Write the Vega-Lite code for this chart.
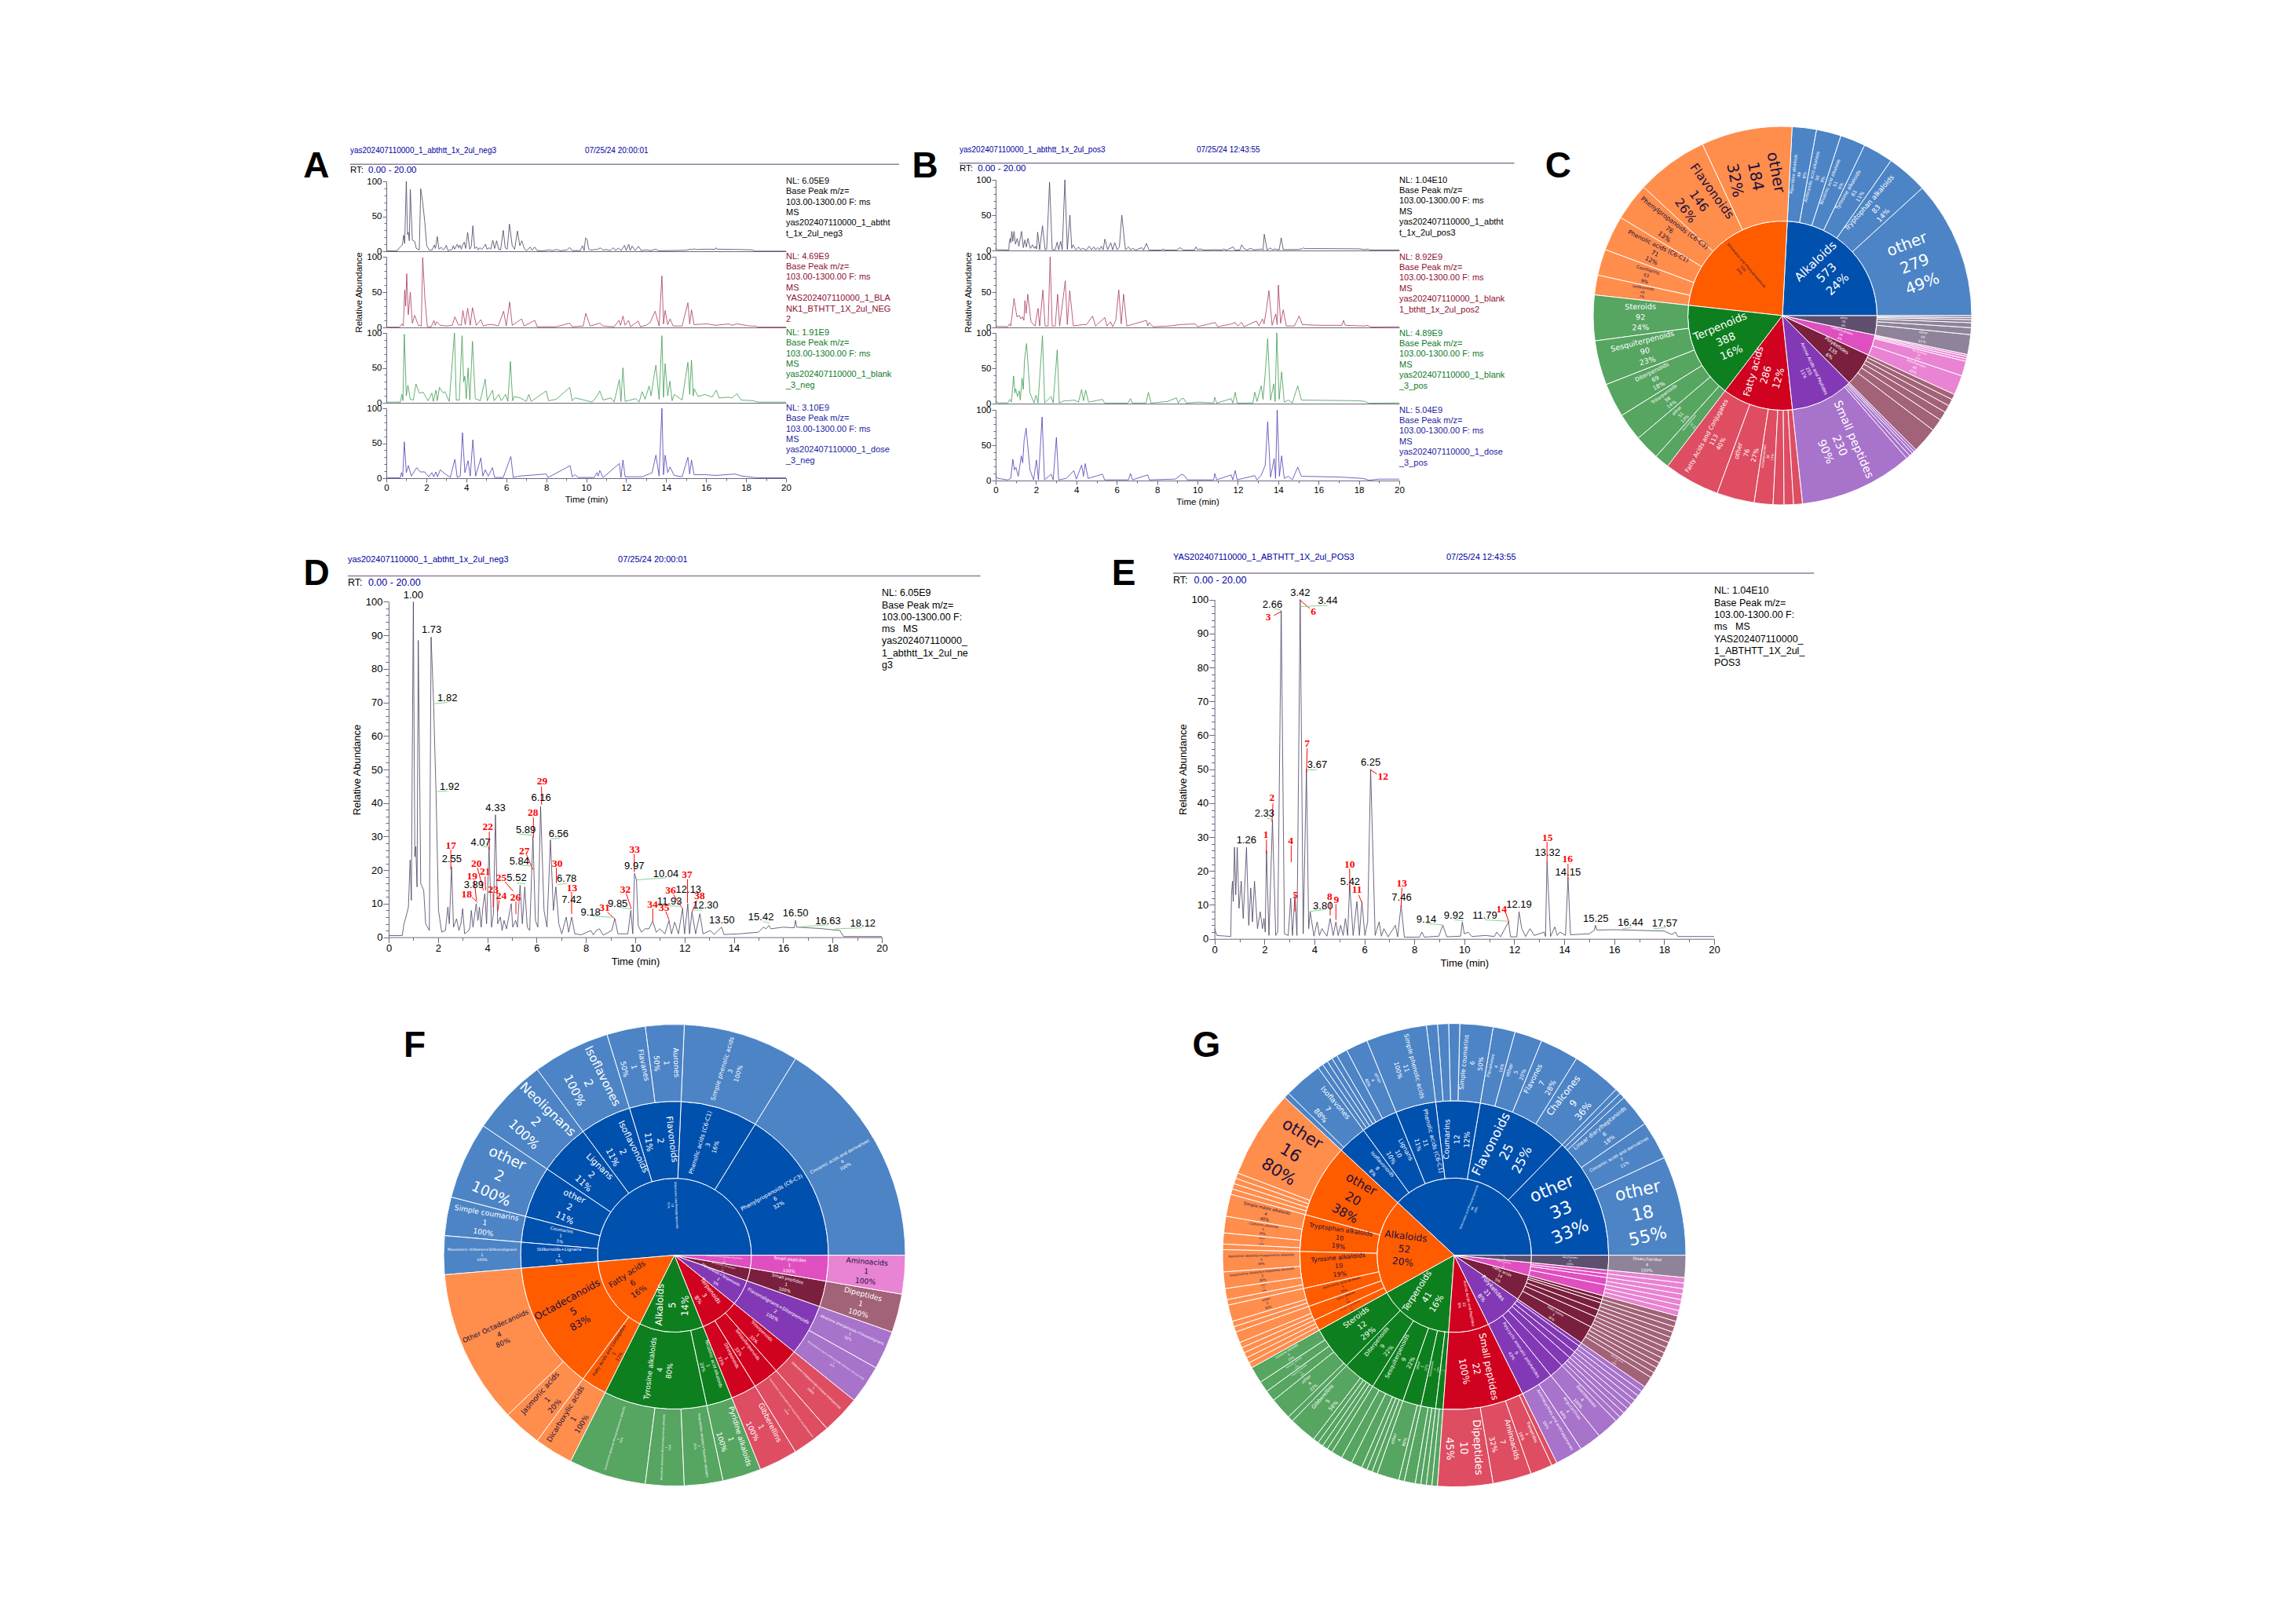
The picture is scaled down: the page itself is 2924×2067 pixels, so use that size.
{"$schema":"https://vega.github.io/schema/vega-lite/v6.json","width":2924,"height":2067,"autosize":{"type":"none"},"padding":0,"background":"white",
"config":{"view":{"stroke":null},"axis":{"grid":false,"labelFont":"Liberation Sans","titleFont":"Liberation Sans","titleFontWeight":"normal","labelColor":"#000","titleColor":"#000","domainColor":"#6f6880","tickColor":"#6f6880","labelOverlap":false,"labelFlush":false,"labelPadding":1,"titlePadding":4},"text":{"font":"Liberation Sans"}},
"resolve":{"scale":{"x":"independent","y":"independent","theta":"independent","radius":"independent","color":"independent"},"axis":{"x":"independent","y":"independent"}},
"datasets":{
"d":[{"t":0,"v":0.5},{"t":0.55,"v":0.5},{"t":0.62,"v":4},{"t":0.7,"v":6},{"t":0.8,"v":9},{"t":0.87,"v":23},{"t":0.92,"v":11},{"t":0.95,"v":47},{"t":1,"v":100},{"t":1.06,"v":24},{"t":1.1,"v":27},{"t":1.15,"v":15},{"t":1.2,"v":88.5},{"t":1.3,"v":16},{"t":1.42,"v":14},{"t":1.5,"v":4},{"t":1.65,"v":2},{"t":1.72,"v":89.5},{"t":1.82,"v":70},{"t":1.92,"v":43},{"t":2.02,"v":8},{"t":2.15,"v":1.5},{"t":2.3,"v":2},{"t":2.4,"v":9},{"t":2.46,"v":4},{"t":2.55,"v":21},{"t":2.63,"v":3},{"t":2.75,"v":5.5},{"t":2.85,"v":2},{"t":2.93,"v":4},{"t":3,"v":8.5},{"t":3.08,"v":1},{"t":3.25,"v":2},{"t":3.3,"v":3},{"t":3.35,"v":8},{"t":3.42,"v":3},{"t":3.55,"v":10},{"t":3.62,"v":5},{"t":3.68,"v":9},{"t":3.75,"v":3},{"t":3.82,"v":9},{"t":3.9,"v":13},{"t":3.97,"v":4},{"t":4.07,"v":27},{"t":4.17,"v":3},{"t":4.25,"v":7},{"t":4.33,"v":36.5},{"t":4.42,"v":4},{"t":4.53,"v":6},{"t":4.6,"v":2},{"t":4.68,"v":5},{"t":4.78,"v":2.5},{"t":4.97,"v":10},{"t":5.03,"v":3},{"t":5.15,"v":5},{"t":5.22,"v":3},{"t":5.33,"v":15.5},{"t":5.42,"v":4},{"t":5.52,"v":15},{"t":5.62,"v":3},{"t":5.72,"v":2},{"t":5.85,"v":30},{"t":5.95,"v":5},{"t":6.05,"v":3},{"t":6.16,"v":39},{"t":6.3,"v":8},{"t":6.42,"v":3},{"t":6.56,"v":29},{"t":6.68,"v":8},{"t":6.78,"v":15},{"t":6.9,"v":4},{"t":7.02,"v":1},{"t":7.2,"v":6},{"t":7.3,"v":1.5},{"t":7.42,"v":6},{"t":7.55,"v":1},{"t":7.8,"v":0.7},{"t":8.2,"v":2},{"t":8.3,"v":0.7},{"t":8.42,"v":2},{"t":8.55,"v":2.5},{"t":8.7,"v":0.6},{"t":9.05,"v":2},{"t":9.17,"v":5.5},{"t":9.3,"v":1},{"t":9.7,"v":1},{"t":9.82,"v":8},{"t":9.9,"v":1},{"t":9.97,"v":19},{"t":10.05,"v":17},{"t":10.12,"v":3.5},{"t":10.25,"v":1.5},{"t":10.4,"v":2.5},{"t":10.55,"v":2.5},{"t":10.71,"v":4.8},{"t":10.85,"v":1.5},{"t":11,"v":2.5},{"t":11.2,"v":1},{"t":11.37,"v":5},{"t":11.47,"v":1},{"t":11.6,"v":4.5},{"t":11.75,"v":1},{"t":11.92,"v":8.5},{"t":12,"v":1},{"t":12.13,"v":10},{"t":12.2,"v":1},{"t":12.3,"v":7.5},{"t":12.45,"v":1},{"t":12.62,"v":7},{"t":12.75,"v":1},{"t":13.05,"v":2},{"t":13.2,"v":0.8},{"t":13.5,"v":3},{"t":13.6,"v":0.8},{"t":14.2,"v":1},{"t":15,"v":1.5},{"t":15.2,"v":3},{"t":15.3,"v":2.5},{"t":15.42,"v":3.5},{"t":15.5,"v":2.5},{"t":16,"v":3},{"t":16.45,"v":2.8},{"t":16.5,"v":5},{"t":16.55,"v":3},{"t":17.5,"v":2.6},{"t":18.3,"v":2},{"t":18.45,"v":0.2},{"t":20,"v":0.2}],
"e":[{"t":0,"v":3},{"t":0.1,"v":1},{"t":0.65,"v":0.7},{"t":0.68,"v":13},{"t":0.72,"v":17},{"t":0.75,"v":11},{"t":0.8,"v":27},{"t":0.85,"v":13},{"t":0.91,"v":27},{"t":0.98,"v":9},{"t":1.07,"v":17},{"t":1.15,"v":6},{"t":1.28,"v":27},{"t":1.37,"v":4},{"t":1.45,"v":15},{"t":1.52,"v":5},{"t":1.6,"v":17},{"t":1.72,"v":3},{"t":1.83,"v":8},{"t":1.92,"v":3},{"t":1.98,"v":6},{"t":2.03,"v":2},{"t":2.08,"v":26},{"t":2.18,"v":1},{"t":2.32,"v":35},{"t":2.45,"v":1},{"t":2.53,"v":2},{"t":2.67,"v":96.7},{"t":2.8,"v":1.5},{"t":2.95,"v":1},{"t":3.05,"v":12},{"t":3.12,"v":1},{"t":3.22,"v":13},{"t":3.3,"v":1},{"t":3.43,"v":100},{"t":3.55,"v":1.5},{"t":3.68,"v":50},{"t":3.77,"v":3},{"t":3.83,"v":8},{"t":3.98,"v":0.8},{"t":4.11,"v":5},{"t":4.2,"v":1},{"t":4.3,"v":3},{"t":4.5,"v":0.8},{"t":4.63,"v":6},{"t":4.75,"v":1},{"t":4.86,"v":5},{"t":4.95,"v":1},{"t":5.05,"v":4},{"t":5.15,"v":1},{"t":5.24,"v":6},{"t":5.33,"v":1},{"t":5.41,"v":16},{"t":5.55,"v":1},{"t":5.7,"v":11},{"t":5.8,"v":1},{"t":5.9,"v":11},{"t":6.02,"v":1},{"t":6.13,"v":5},{"t":6.25,"v":50},{"t":6.43,"v":1},{"t":6.59,"v":5},{"t":6.68,"v":0.8},{"t":6.78,"v":3},{"t":6.95,"v":0.6},{"t":7.24,"v":4},{"t":7.33,"v":0.6},{"t":7.47,"v":10},{"t":7.6,"v":0.5},{"t":8.2,"v":0.5},{"t":8.3,"v":2},{"t":8.4,"v":0.5},{"t":8.98,"v":0.8},{"t":9.14,"v":4},{"t":9.3,"v":0.6},{"t":9.85,"v":0.8},{"t":9.92,"v":5},{"t":10,"v":1.5},{"t":10.15,"v":2},{"t":10.3,"v":0.7},{"t":10.85,"v":1},{"t":11.2,"v":0.7},{"t":11.3,"v":2},{"t":11.45,"v":0.6},{"t":11.77,"v":5},{"t":11.85,"v":0.6},{"t":12.1,"v":0.6},{"t":12.19,"v":8},{"t":12.3,"v":3},{"t":12.45,"v":0.7},{"t":12.63,"v":3},{"t":12.8,"v":1},{"t":13.2,"v":2},{"t":13.25,"v":0.7},{"t":13.31,"v":23},{"t":13.45,"v":0.7},{"t":13.62,"v":3.5},{"t":13.72,"v":1},{"t":13.83,"v":2},{"t":14.05,"v":1},{"t":14.15,"v":18},{"t":14.25,"v":1.2},{"t":15,"v":1.5},{"t":15.2,"v":2.5},{"t":15.25,"v":4},{"t":15.3,"v":2.6},{"t":16,"v":2.7},{"t":17,"v":2.5},{"t":18,"v":2.3},{"t":18.3,"v":1.3},{"t":18.45,"v":2},{"t":18.55,"v":0.7},{"t":20,"v":0.7}],
"a2":[{"t":0,"v":0.5},{"t":0.65,"v":0.5},{"t":0.7,"v":2},{"t":0.78,"v":5},{"t":0.85,"v":2},{"t":0.92,"v":53},{"t":0.97,"v":30},{"t":1.02,"v":76},{"t":1.1,"v":18},{"t":1.2,"v":50},{"t":1.3,"v":6},{"t":1.42,"v":17},{"t":1.6,"v":3},{"t":1.75,"v":2},{"t":1.82,"v":99},{"t":1.93,"v":40},{"t":2.05,"v":1},{"t":2.25,"v":1},{"t":2.38,"v":10},{"t":2.45,"v":3},{"t":2.52,"v":8},{"t":2.7,"v":3},{"t":3,"v":2},{"t":3.3,"v":3},{"t":3.43,"v":15},{"t":3.6,"v":4},{"t":3.75,"v":3},{"t":3.83,"v":24},{"t":3.95,"v":4},{"t":4.07,"v":27},{"t":4.2,"v":3},{"t":4.31,"v":28},{"t":4.5,"v":3},{"t":4.73,"v":11},{"t":4.85,"v":2},{"t":5.1,"v":4},{"t":5.35,"v":4},{"t":5.6,"v":2},{"t":5.87,"v":23},{"t":6,"v":2},{"t":6.17,"v":36},{"t":6.3,"v":3},{"t":6.77,"v":12},{"t":6.9,"v":2},{"t":7.43,"v":10},{"t":7.55,"v":1},{"t":8.5,"v":1},{"t":9.18,"v":6},{"t":9.3,"v":1},{"t":9.85,"v":2},{"t":9.98,"v":20},{"t":10.2,"v":2},{"t":10.68,"v":6},{"t":10.85,"v":2},{"t":11.4,"v":1},{"t":11.64,"v":10},{"t":11.72,"v":3},{"t":11.84,"v":16},{"t":11.95,"v":3},{"t":12.12,"v":10},{"t":12.22,"v":1},{"t":12.6,"v":9},{"t":12.72,"v":1},{"t":13,"v":3},{"t":13.2,"v":7},{"t":13.45,"v":23},{"t":13.65,"v":2},{"t":13.79,"v":73},{"t":13.87,"v":5},{"t":13.95,"v":24},{"t":14.08,"v":4},{"t":14.2,"v":12},{"t":14.35,"v":2},{"t":14.8,"v":2},{"t":15.09,"v":35},{"t":15.18,"v":5},{"t":15.27,"v":25},{"t":15.4,"v":4},{"t":16.05,"v":5},{"t":16.5,"v":3},{"t":17.15,"v":5},{"t":17.3,"v":3},{"t":17.55,"v":5},{"t":18.2,"v":2},{"t":18.45,"v":2},{"t":18.6,"v":0.5},{"t":20,"v":0.5}],
"a3":[{"t":0,"v":1},{"t":0.7,"v":1},{"t":0.78,"v":12},{"t":0.83,"v":3},{"t":0.9,"v":98},{"t":1,"v":10},{"t":1.08,"v":25},{"t":1.2,"v":5},{"t":1.35,"v":4},{"t":1.48,"v":27},{"t":1.65,"v":14},{"t":1.85,"v":15},{"t":2.08,"v":3},{"t":2.28,"v":14},{"t":2.35,"v":2},{"t":2.48,"v":18},{"t":2.55,"v":3},{"t":2.66,"v":22},{"t":2.85,"v":14},{"t":2.93,"v":16},{"t":3.15,"v":2},{"t":3.41,"v":100},{"t":3.5,"v":4},{"t":3.65,"v":4},{"t":3.79,"v":96},{"t":3.87,"v":30},{"t":3.93,"v":38},{"t":4,"v":6},{"t":4.09,"v":50},{"t":4.18,"v":4},{"t":4.31,"v":88},{"t":4.45,"v":6},{"t":4.7,"v":3},{"t":4.95,"v":34},{"t":5.05,"v":3},{"t":5.31,"v":18},{"t":5.4,"v":3},{"t":5.63,"v":12},{"t":5.75,"v":3},{"t":5.97,"v":12},{"t":6.08,"v":2},{"t":6.21,"v":59},{"t":6.32,"v":3},{"t":6.4,"v":9},{"t":6.7,"v":7},{"t":7,"v":2},{"t":7.13,"v":12},{"t":7.25,"v":2},{"t":8,"v":17},{"t":8.12,"v":3},{"t":8.5,"v":5},{"t":9.18,"v":22},{"t":9.3,"v":3},{"t":9.45,"v":7},{"t":9.75,"v":5},{"t":10.3,"v":1},{"t":10.55,"v":10},{"t":10.68,"v":17},{"t":10.85,"v":4},{"t":11.24,"v":7},{"t":11.4,"v":1},{"t":11.66,"v":33},{"t":11.74,"v":2},{"t":11.84,"v":50},{"t":11.95,"v":2},{"t":12.48,"v":6},{"t":12.65,"v":1},{"t":12.8,"v":16},{"t":12.95,"v":5},{"t":13.15,"v":24},{"t":13.25,"v":10},{"t":13.39,"v":37},{"t":13.49,"v":54},{"t":13.65,"v":5},{"t":13.79,"v":96},{"t":13.87,"v":8},{"t":13.95,"v":56},{"t":14.08,"v":10},{"t":14.19,"v":31},{"t":14.3,"v":3},{"t":14.41,"v":12},{"t":14.8,"v":4},{"t":15.09,"v":58},{"t":15.18,"v":12},{"t":15.27,"v":61},{"t":15.36,"v":10},{"t":15.41,"v":20},{"t":15.6,"v":9},{"t":15.95,"v":12},{"t":16.3,"v":8},{"t":16.51,"v":18},{"t":16.65,"v":7},{"t":17.15,"v":8},{"t":17.3,"v":7},{"t":17.55,"v":13},{"t":17.75,"v":4},{"t":18.35,"v":3},{"t":18.6,"v":1},{"t":20,"v":1}],
"a4":[{"t":0,"v":0.5},{"t":0.7,"v":0.5},{"t":0.76,"v":8},{"t":0.82,"v":2},{"t":0.9,"v":52},{"t":1,"v":8},{"t":1.1,"v":18},{"t":1.25,"v":3},{"t":1.52,"v":15},{"t":1.7,"v":9},{"t":1.92,"v":9},{"t":2.12,"v":2},{"t":2.28,"v":8},{"t":2.37,"v":2},{"t":2.48,"v":9},{"t":2.56,"v":2},{"t":2.7,"v":12},{"t":2.95,"v":6},{"t":3.2,"v":1},{"t":3.43,"v":27},{"t":3.55,"v":1},{"t":3.7,"v":3},{"t":3.81,"v":65},{"t":3.93,"v":8},{"t":4.09,"v":25},{"t":4.2,"v":3},{"t":4.33,"v":55},{"t":4.47,"v":3},{"t":4.73,"v":29},{"t":4.83,"v":3},{"t":4.95,"v":12},{"t":5.1,"v":3},{"t":5.31,"v":15},{"t":5.42,"v":1},{"t":5.85,"v":1},{"t":6.23,"v":31},{"t":6.35,"v":1},{"t":6.65,"v":3},{"t":8,"v":6},{"t":8.1,"v":1},{"t":9.2,"v":18},{"t":9.3,"v":2},{"t":9.44,"v":5},{"t":9.6,"v":1},{"t":10.4,"v":1},{"t":10.54,"v":8},{"t":10.6,"v":3},{"t":10.68,"v":11},{"t":10.85,"v":1},{"t":11.66,"v":21},{"t":11.74,"v":1},{"t":11.84,"v":26},{"t":11.95,"v":2},{"t":12.8,"v":2},{"t":13.15,"v":6},{"t":13.3,"v":8},{"t":13.49,"v":33},{"t":13.65,"v":3},{"t":13.79,"v":100},{"t":13.87,"v":5},{"t":13.95,"v":33},{"t":14.08,"v":8},{"t":14.2,"v":16},{"t":14.4,"v":4},{"t":14.8,"v":2},{"t":15.09,"v":30},{"t":15.18,"v":6},{"t":15.27,"v":26},{"t":15.4,"v":5},{"t":15.95,"v":5},{"t":16.5,"v":4},{"t":17.46,"v":6},{"t":17.8,"v":3},{"t":18.4,"v":1},{"t":18.6,"v":0.5},{"t":20,"v":0.5}],
"b2":[{"t":0,"v":1.5},{"t":0.6,"v":1},{"t":0.69,"v":5},{"t":0.75,"v":2},{"t":0.91,"v":41},{"t":1.05,"v":15},{"t":1.17,"v":17},{"t":1.25,"v":12},{"t":1.33,"v":15},{"t":1.4,"v":10},{"t":1.45,"v":38},{"t":1.51,"v":20},{"t":1.59,"v":47},{"t":1.75,"v":8},{"t":1.95,"v":2},{"t":2.1,"v":27},{"t":2.18,"v":2},{"t":2.34,"v":53},{"t":2.45,"v":2},{"t":2.6,"v":2},{"t":2.7,"v":100},{"t":2.8,"v":2},{"t":2.95,"v":2},{"t":3.07,"v":47},{"t":3.17,"v":2},{"t":3.45,"v":66},{"t":3.55,"v":4},{"t":3.67,"v":52},{"t":3.85,"v":2},{"t":4.3,"v":4},{"t":4.5,"v":4},{"t":4.8,"v":16},{"t":4.95,"v":2},{"t":5.41,"v":14},{"t":5.52,"v":2},{"t":5.69,"v":8},{"t":5.8,"v":1},{"t":5.95,"v":10},{"t":6.1,"v":53},{"t":6.22,"v":5},{"t":6.34,"v":47},{"t":6.5,"v":2},{"t":7.47,"v":10},{"t":7.54,"v":2},{"t":7.61,"v":7},{"t":7.8,"v":1},{"t":8.6,"v":2},{"t":9.15,"v":4},{"t":9.89,"v":5},{"t":10,"v":1},{"t":10.88,"v":7},{"t":11,"v":1},{"t":11.7,"v":5},{"t":11.87,"v":7},{"t":12,"v":2},{"t":12.19,"v":7},{"t":12.3,"v":1},{"t":12.92,"v":9},{"t":13.05,"v":2},{"t":13.22,"v":12},{"t":13.3,"v":5},{"t":13.42,"v":26},{"t":13.54,"v":52},{"t":13.7,"v":3},{"t":13.88,"v":19},{"t":13.95,"v":4},{"t":14.01,"v":60},{"t":14.12,"v":6},{"t":14.25,"v":25},{"t":14.4,"v":2},{"t":14.8,"v":2},{"t":15.04,"v":16},{"t":15.2,"v":4},{"t":16,"v":3},{"t":17.15,"v":3},{"t":17.24,"v":10},{"t":17.32,"v":3},{"t":18.3,"v":2},{"t":18.41,"v":3},{"t":18.6,"v":0.5},{"t":20,"v":1}],
"b3":[{"t":0,"v":5},{"t":0.1,"v":1},{"t":0.6,"v":1},{"t":0.71,"v":6},{"t":0.78,"v":2},{"t":0.89,"v":39},{"t":0.95,"v":15},{"t":0.99,"v":21},{"t":1.08,"v":10},{"t":1.17,"v":18},{"t":1.22,"v":5},{"t":1.31,"v":36},{"t":1.37,"v":20},{"t":1.43,"v":62},{"t":1.53,"v":85},{"t":1.7,"v":15},{"t":1.9,"v":1},{"t":2,"v":12},{"t":2.1,"v":1},{"t":2.32,"v":96},{"t":2.43,"v":1},{"t":2.75,"v":10},{"t":2.85,"v":1},{"t":3.05,"v":76},{"t":3.15,"v":1},{"t":3.4,"v":4},{"t":3.6,"v":4},{"t":3.9,"v":5},{"t":4.1,"v":2},{"t":4.26,"v":20},{"t":4.35,"v":4},{"t":4.46,"v":19},{"t":4.6,"v":2},{"t":5.29,"v":6},{"t":5.4,"v":0.7},{"t":6.55,"v":0.7},{"t":6.68,"v":7},{"t":6.78,"v":0.7},{"t":7.45,"v":1},{"t":7.57,"v":16},{"t":7.7,"v":0.7},{"t":8.5,"v":3},{"t":8.96,"v":8},{"t":9.05,"v":0.7},{"t":9.2,"v":7},{"t":9.32,"v":7},{"t":9.45,"v":0.7},{"t":10,"v":2},{"t":10.8,"v":1},{"t":10.86,"v":9},{"t":10.95,"v":0.7},{"t":11.67,"v":7},{"t":11.75,"v":0.7},{"t":11.87,"v":16},{"t":11.97,"v":0.7},{"t":12.75,"v":1},{"t":12.84,"v":16},{"t":12.95,"v":3},{"t":13.16,"v":25},{"t":13.25,"v":6},{"t":13.36,"v":44},{"t":13.48,"v":92},{"t":13.62,"v":5},{"t":13.78,"v":28},{"t":13.85,"v":3},{"t":13.93,"v":100},{"t":14.05,"v":6},{"t":14.17,"v":45},{"t":14.3,"v":2},{"t":14.5,"v":5},{"t":14.7,"v":1},{"t":14.97,"v":25},{"t":15.15,"v":5},{"t":18,"v":4},{"t":18.3,"v":3},{"t":18.5,"v":0.5},{"t":19.6,"v":0.8},{"t":20,"v":1}],
"b4":[{"t":0,"v":7},{"t":0.1,"v":3},{"t":0.6,"v":1},{"t":0.75,"v":3},{"t":0.85,"v":30},{"t":0.93,"v":15},{"t":1,"v":19},{"t":1.12,"v":6},{"t":1.27,"v":35},{"t":1.34,"v":25},{"t":1.41,"v":57},{"t":1.51,"v":74},{"t":1.7,"v":15},{"t":1.88,"v":1},{"t":2.02,"v":29},{"t":2.12,"v":1},{"t":2.3,"v":90},{"t":2.42,"v":1},{"t":2.75,"v":9},{"t":2.85,"v":1},{"t":3.01,"v":61},{"t":3.12,"v":1},{"t":3.5,"v":3},{"t":3.87,"v":14},{"t":4,"v":2},{"t":4.26,"v":22},{"t":4.35,"v":6},{"t":4.44,"v":24},{"t":4.58,"v":3},{"t":5.29,"v":9},{"t":5.4,"v":1},{"t":6.58,"v":1},{"t":6.68,"v":10},{"t":6.78,"v":1},{"t":7.53,"v":8},{"t":7.62,"v":1},{"t":8.9,"v":2},{"t":9.22,"v":9},{"t":9.35,"v":7},{"t":9.5,"v":1},{"t":10.8,"v":1},{"t":10.86,"v":10},{"t":10.95,"v":1},{"t":11.67,"v":8},{"t":11.75,"v":1},{"t":11.87,"v":14},{"t":11.97,"v":1},{"t":12.84,"v":7},{"t":12.95,"v":1},{"t":13.15,"v":7},{"t":13.36,"v":22},{"t":13.48,"v":83},{"t":13.62,"v":5},{"t":13.8,"v":31},{"t":13.87,"v":3},{"t":13.95,"v":100},{"t":14.06,"v":6},{"t":14.17,"v":35},{"t":14.3,"v":3},{"t":14.5,"v":6},{"t":14.7,"v":1},{"t":14.97,"v":19},{"t":15.15,"v":6},{"t":17,"v":5},{"t":18.2,"v":3},{"t":18.5,"v":0.5},{"t":19,"v":2},{"t":20,"v":2}],
"dBlack":[{"t":1,"v":101.9,"x":"1.00"},{"t":1.74,"v":91.6,"x":"1.73"},{"t":2.38,"v":71.3,"x":"1.82"},{"t":2.47,"v":44.8,"x":"1.92"},{"t":2.56,"v":23.2,"x":"2.55"},{"t":4.33,"v":38.5,"x":"4.33"},{"t":3.73,"v":28.3,"x":"4.07"},{"t":3.45,"v":15.6,"x":"3.89"},{"t":5.56,"v":31.9,"x":"5.89"},{"t":5.3,"v":22.7,"x":"5.84"},{"t":5.19,"v":17.7,"x":"5.52"},{"t":6.18,"v":41.6,"x":"6.16"},{"t":6.89,"v":30.9,"x":"6.56"},{"t":7.22,"v":17.4,"x":"6.78"},{"t":7.42,"v":11.2,"x":"7.42"},{"t":8.19,"v":7.5,"x":"9.18"},{"t":9.29,"v":9.9,"x":"9.85"},{"t":9.96,"v":21.2,"x":"9.97"},{"t":11.24,"v":18.8,"x":"10.04"},{"t":11.39,"v":10.7,"x":"11.93"},{"t":12.16,"v":14.3,"x":"12.13"},{"t":12.85,"v":9.5,"x":"12.30"},{"t":13.51,"v":5,"x":"13.50"},{"t":15.1,"v":6,"x":"15.42"},{"t":16.5,"v":7.2,"x":"16.50"},{"t":17.82,"v":4.9,"x":"16.63"},{"t":19.23,"v":4.2,"x":"18.12"}],
"dRed":[{"t":2.52,"v":27.3,"x":"17"},{"t":3.16,"v":12.8,"x":"18"},{"t":3.38,"v":18.2,"x":"19"},{"t":3.56,"v":21.8,"x":"20"},{"t":3.91,"v":19.5,"x":"21"},{"t":4.02,"v":32.8,"x":"22"},{"t":4.24,"v":14.3,"x":"23"},{"t":4.57,"v":12.4,"x":"24"},{"t":4.57,"v":17.6,"x":"25"},{"t":5.14,"v":11.8,"x":"26"},{"t":5.5,"v":25.7,"x":"27"},{"t":5.85,"v":37.1,"x":"28"},{"t":6.23,"v":46.5,"x":"29"},{"t":6.84,"v":21.9,"x":"30"},{"t":7.44,"v":14.7,"x":"13"},{"t":8.76,"v":8.7,"x":"31"},{"t":9.6,"v":14.3,"x":"32"},{"t":9.98,"v":26.1,"x":"33"},{"t":10.7,"v":9.7,"x":"34"},{"t":11.17,"v":8.7,"x":"35"},{"t":11.43,"v":13.9,"x":"36"},{"t":12.1,"v":18.7,"x":"37"},{"t":12.61,"v":12.2,"x":"38"}],
"dLines":[{"t":2.52,"v":26.1,"t2":2.52,"v2":20.2,"k":"r"},{"t":3.38,"v":11.9,"t2":3.6,"v2":10.4,"k":"r"},{"t":3.47,"v":16.9,"t2":3.56,"v2":11,"k":"r"},{"t":3.6,"v":20.7,"t2":3.84,"v2":14,"k":"r"},{"t":3.91,"v":18.1,"t2":3.93,"v2":14,"k":"r"},{"t":4.08,"v":31.5,"t2":4.08,"v2":26.1,"k":"r"},{"t":4.24,"v":13.1,"t2":4.24,"v2":8.9,"k":"r"},{"t":4.48,"v":11,"t2":4.42,"v2":7.7,"k":"r"},{"t":4.72,"v":16.5,"t2":5.05,"v2":13.7,"k":"r"},{"t":5.16,"v":10.6,"t2":5.16,"v2":6.9,"k":"r"},{"t":5.59,"v":24.6,"t2":5.85,"v2":20.2,"k":"r"},{"t":5.87,"v":35.7,"t2":5.87,"v2":29.8,"k":"r"},{"t":6.2,"v":44.9,"t2":6.2,"v2":39.5,"k":"r"},{"t":6.8,"v":20.7,"t2":6.8,"v2":16.1,"k":"r"},{"t":7.42,"v":13.5,"t2":7.42,"v2":6.9,"k":"r"},{"t":8.87,"v":7.5,"t2":9.18,"v2":5.4,"k":"r"},{"t":9.63,"v":13.1,"t2":9.84,"v2":8.5,"k":"r"},{"t":9.96,"v":24.8,"t2":9.96,"v2":19.4,"k":"r"},{"t":10.71,"v":8.5,"t2":10.71,"v2":4.8,"k":"r"},{"t":11.24,"v":7.7,"t2":11.37,"v2":5.2,"k":"r"},{"t":11.55,"v":12.7,"t2":11.92,"v2":8.5,"k":"r"},{"t":12.12,"v":17.3,"t2":12.12,"v2":10.2,"k":"r"},{"t":12.5,"v":11,"t2":12.3,"v2":7.5,"k":"r"},{"t":1.83,"v":69.6,"t2":2.38,"v2":70,"k":"g"},{"t":1.92,"v":43.4,"t2":2.38,"v2":43.6,"k":"g"},{"t":3.75,"v":27.1,"t2":4.06,"v2":26.9,"k":"g"},{"t":5.3,"v":30.7,"t2":5.85,"v2":30.4,"k":"g"},{"t":5.3,"v":21.5,"t2":5.81,"v2":21.2,"k":"g"},{"t":5.19,"v":16.2,"t2":5.54,"v2":15.9,"k":"g"},{"t":6.58,"v":29.3,"t2":6.95,"v2":29.6,"k":"g"},{"t":6.82,"v":15.6,"t2":7.26,"v2":16.1,"k":"g"},{"t":8.23,"v":6.3,"t2":9.14,"v2":5.9,"k":"g"},{"t":9.32,"v":9,"t2":9.84,"v2":8.4,"k":"g"},{"t":10.05,"v":17.1,"t2":11.24,"v2":17.7,"k":"g"},{"t":10.88,"v":9.5,"t2":11.88,"v2":9.2,"k":"g"},{"t":12.34,"v":8.1,"t2":12.7,"v2":8.1,"k":"g"},{"t":15.17,"v":4.7,"t2":15.45,"v2":4.2,"k":"g"},{"t":16.64,"v":3.1,"t2":17.82,"v2":3.7,"k":"g"},{"t":18.1,"v":2.5,"t2":19.2,"v2":2.8,"k":"g"}],
"eBlack":[{"t":1.28,"v":29.2,"x":"1.26"},{"t":2,"v":36.9,"x":"2.33"},{"t":2.32,"v":98.6,"x":"2.66"},{"t":3.43,"v":102,"x":"3.42"},{"t":4.53,"v":99.6,"x":"3.44"},{"t":4.11,"v":51.2,"x":"3.67"},{"t":6.25,"v":52,"x":"6.25"},{"t":4.34,"v":9.7,"x":"3.80"},{"t":5.43,"v":16.9,"x":"5.42"},{"t":7.49,"v":12.1,"x":"7.46"},{"t":8.48,"v":5.8,"x":"9.14"},{"t":9.58,"v":6.9,"x":"9.92"},{"t":10.82,"v":6.9,"x":"11.79"},{"t":12.19,"v":10,"x":"12.19"},{"t":13.33,"v":25.4,"x":"13.32"},{"t":14.15,"v":19.5,"x":"14.15"},{"t":15.26,"v":6,"x":"15.25"},{"t":16.65,"v":4.7,"x":"16.44"},{"t":18.02,"v":4.6,"x":"17.57"}],
"eRed":[{"t":2.06,"v":30.6,"x":"1"},{"t":2.3,"v":41.6,"x":"2"},{"t":2.15,"v":94.9,"x":"3"},{"t":3.05,"v":28.8,"x":"4"},{"t":3.24,"v":12.9,"x":"5"},{"t":3.96,"v":96.4,"x":"6"},{"t":3.71,"v":57.5,"x":"7"},{"t":4.61,"v":12.4,"x":"8"},{"t":4.88,"v":11.4,"x":"9"},{"t":5.41,"v":22,"x":"10"},{"t":5.7,"v":14.4,"x":"11"},{"t":6.74,"v":47.9,"x":"12"},{"t":7.5,"v":16.4,"x":"13"},{"t":11.49,"v":8.8,"x":"14"},{"t":13.33,"v":29.9,"x":"15"},{"t":14.13,"v":23.5,"x":"16"}],
"eLines":[{"t":2.08,"v":29.2,"t2":2.08,"v2":25,"k":"r"},{"t":2.34,"v":39.9,"t2":2.3,"v2":34.5,"k":"r"},{"t":2.38,"v":95.3,"t2":2.67,"v2":96.5,"k":"r"},{"t":3.07,"v":27.5,"t2":3.07,"v2":22.6,"k":"r"},{"t":3.22,"v":11.6,"t2":3.22,"v2":8.1,"k":"r"},{"t":3.43,"v":99.8,"t2":3.81,"v2":97.4,"k":"r"},{"t":3.71,"v":56.2,"t2":3.68,"v2":49,"k":"r"},{"t":4.63,"v":11,"t2":4.63,"v2":6.9,"k":"r"},{"t":4.86,"v":10.2,"t2":4.86,"v2":5.6,"k":"r"},{"t":5.41,"v":20.7,"t2":5.41,"v2":14.3,"k":"r"},{"t":5.77,"v":12.9,"t2":5.9,"v2":10.7,"k":"r"},{"t":6.25,"v":49.8,"t2":6.5,"v2":48.6,"k":"r"},{"t":7.5,"v":15.1,"t2":7.47,"v2":9.3,"k":"r"},{"t":11.62,"v":8.5,"t2":11.79,"v2":4.8,"k":"r"},{"t":13.31,"v":28.6,"t2":13.31,"v2":23,"k":"r"},{"t":14.15,"v":22.1,"t2":14.15,"v2":17.6,"k":"r"},{"t":2.34,"v":97.4,"t2":2.67,"v2":96.9,"k":"g"},{"t":3.43,"v":97.9,"t2":4.53,"v2":98.3,"k":"g"},{"t":3.71,"v":49.8,"t2":4.1,"v2":49.8,"k":"g"},{"t":2.1,"v":35.5,"t2":2.3,"v2":35.3,"k":"g"},{"t":3.83,"v":8.1,"t2":4.34,"v2":8.5,"k":"g"},{"t":8.5,"v":4.5,"t2":9.14,"v2":4.1,"k":"g"},{"t":9.62,"v":5.6,"t2":9.96,"v2":5.4,"k":"g"},{"t":10.82,"v":5.6,"t2":11.77,"v2":5.2,"k":"g"},{"t":16.34,"v":3,"t2":16.69,"v2":3.3,"k":"g"},{"t":17.58,"v":3,"t2":18.06,"v2":3.3,"k":"g"}],
"C":[{"r":0,"g":"alk","n":"Alkaloids","v":573,"p":"24%"},{"r":0,"g":"shi","n":"Shikimates and Phenylpropanoids","v":570,"p":"24%"},{"r":0,"g":"ter","n":"Terpenoids","v":388,"p":"16%"},{"r":0,"g":"fat","n":"Fatty acids","v":286,"p":"12%"},{"r":0,"g":"ami","n":"Amino Acids and Peptides","v":255,"p":"11%"},{"r":0,"g":"pol","n":"Polyketides","v":135,"p":"6%"},{"r":0,"g":"car","n":"Carbohydrates","v":84,"p":"4%"},{"r":0,"g":"oth","n":"other","v":78,"p":"3%"},
{"r":1,"g":"alk","n":"other","v":279,"p":"49%"},{"r":1,"g":"alk","n":"Tryptophan alkaloids","v":83,"p":"14%"},{"r":1,"g":"alk","n":"Tyrosine alkaloids","v":61,"p":"11%"},{"r":1,"g":"alk","n":"Nicotinic acid alkaloids","v":51,"p":"9%"},{"r":1,"g":"alk","n":"Anthranilic acid alkaloids","v":50,"p":"9%"},{"r":1,"g":"alk","n":"Piperidine alkaloids","v":49,"p":"9%"},
{"r":1,"g":"shi","n":"other","v":184,"p":"32%"},{"r":1,"g":"shi","n":"Flavonoids","v":146,"p":"26%"},{"r":1,"g":"shi","n":"Phenylpropanoids (C6-C3)","v":76,"p":"13%"},{"r":1,"g":"shi","n":"Phenolic acids (C6-C1)","v":71,"p":"12%"},{"r":1,"g":"shi","n":"Coumarins","v":53,"p":"9%"},{"r":1,"g":"shi","n":"Isoflavonoids","v":40,"p":"7%"},
{"r":1,"g":"ter","n":"Steroids","v":92,"p":"24%"},{"r":1,"g":"ter","n":"Sesquiterpenoids","v":90,"p":"23%"},{"r":1,"g":"ter","n":"Diterpenoids","v":69,"p":"18%"},{"r":1,"g":"ter","n":"Triterpenoids","v":56,"p":"14%"},{"r":1,"g":"ter","n":"other","v":51,"p":"13%"},{"r":1,"g":"ter","n":"Monoterpenoids","v":30,"p":"8%"},
{"r":1,"g":"fat","n":"Fatty Acids and Conjugates","v":113,"p":"40%"},{"r":1,"g":"fat","n":"other","v":76,"p":"27%"},{"r":1,"g":"fat","n":"Octadecanoids","v":38,"p":"13%"},{"r":1,"g":"fat","n":"","v":22,"p":""},{"r":1,"g":"fat","n":"","v":19,"p":""},{"r":1,"g":"fat","n":"","v":18,"p":""},
{"r":1,"g":"ami","n":"Small peptides","v":230,"p":"90%"},{"r":1,"g":"ami","n":"","v":8,"p":""},{"r":1,"g":"ami","n":"","v":7,"p":""},{"r":1,"g":"ami","n":"","v":5,"p":""},{"r":1,"g":"ami","n":"","v":5,"p":""},
{"r":1,"g":"pol","n":"","v":52,"p":""},{"r":1,"g":"pol","n":"","v":25,"p":""},{"r":1,"g":"pol","n":"","v":18,"p":""},{"r":1,"g":"pol","n":"","v":15,"p":""},{"r":1,"g":"pol","n":"","v":14,"p":""},{"r":1,"g":"pol","n":"","v":11,"p":""},
{"r":1,"g":"car","n":"Saccharides","v":40,"p":"45%"},{"r":1,"g":"car","n":"Nucleosides","v":30,"p":"35%"},{"r":1,"g":"car","n":"","v":5,"p":""},{"r":1,"g":"car","n":"","v":5,"p":""},{"r":1,"g":"car","n":"","v":4,"p":""},
{"r":1,"g":"oth","n":"other","v":40,"p":"51%"},{"r":1,"g":"oth","n":"","v":14,"p":""},{"r":1,"g":"oth","n":"","v":10,"p":""},{"r":1,"g":"oth","n":"","v":6,"p":""},{"r":1,"g":"oth","n":"","v":4,"p":""},{"r":1,"g":"oth","n":"","v":4,"p":""}],
"F":[{"r":0,"g":"shi","n":"Shikimates and Phenylpropanoids","v":19,"p":"51%"},{"r":0,"g":"fat","n":"Fatty acids","v":6,"p":"16%"},{"r":0,"g":"alk","n":"Alkaloids","v":5,"p":"14%"},{"r":0,"g":"ter","n":"Terpenoids","v":3,"p":"8%"},{"r":0,"g":"pol","n":"Flavonoids+Terpenoids","v":2,"p":"5%"},{"r":0,"g":"ami","n":"Amino Acids and Peptides","v":1,"p":"3%"},{"r":0,"g":"am2","n":"Amino Acids and Peptides+Polyketides","v":1,"p":"3%"},
{"r":1,"g":"shi","n":"Phenylpropanoids (C6-C3)","v":6,"p":"32%"},{"r":1,"g":"shi","n":"Phenolic acids (C6-C1)","v":3,"p":"16%"},{"r":1,"g":"shi","n":"Flavonoids","v":2,"p":"11%"},{"r":1,"g":"shi","n":"Isoflavonoids","v":2,"p":"11%"},{"r":1,"g":"shi","n":"Lignans","v":2,"p":"11%"},{"r":1,"g":"shi","n":"other","v":2,"p":"11%"},{"r":1,"g":"shi","n":"Coumarins","v":1,"p":"5%"},{"r":1,"g":"shi","n":"Stilbenoids+Lignans","v":1,"p":"5%"},
{"r":1,"g":"fat","n":"Octadecanoids","v":5,"p":"83%"},{"r":1,"g":"fat","n":"Fatty Acids and Conjugates","v":1,"p":"17%"},{"r":1,"g":"alk","n":"Tyrosine alkaloids","v":4,"p":"80%"},{"r":1,"g":"alk","n":"Nicotinic acid alkaloids","v":1,"p":"20%"},{"r":1,"g":"ter","n":"Diterpenoids","v":1,"p":"33%"},{"r":1,"g":"ter","n":"Sesquiterpenoids","v":1,"p":"33%"},{"r":1,"g":"ter","n":"Triterpenoids","v":1,"p":"33%"},{"r":1,"g":"pol","n":"Flavonolignans+Diterpenoids","v":2,"p":"100%"},{"r":1,"g":"ami","n":"Small peptides","v":1,"p":"100%"},{"r":1,"g":"am2","n":"Small peptides","v":1,"p":"100%"},
{"r":2,"g":"shi","n":"Cinnamic acids and derivatives","v":6,"p":"100%"},{"r":2,"g":"shi","n":"Simple phenolic acids","v":3,"p":"100%"},{"r":2,"g":"shi","n":"Aurones","v":1,"p":"50%"},{"r":2,"g":"shi","n":"Flavanes","v":1,"p":"50%"},{"r":2,"g":"shi","n":"Isoflavones","v":2,"p":"100%"},{"r":2,"g":"shi","n":"Neolignans","v":2,"p":"100%"},{"r":2,"g":"shi","n":"other","v":2,"p":"100%"},{"r":2,"g":"shi","n":"Simple coumarins","v":1,"p":"100%"},{"r":2,"g":"shi","n":"Monomeric stilbenes+Stilbenolignans","v":1,"p":"100%"},
{"r":2,"g":"fat","n":"Other Octadecanoids","v":4,"p":"80%"},{"r":2,"g":"fat","n":"Jasmonic acids","v":1,"p":"20%"},{"r":2,"g":"fat","n":"Dicarboxylic acids","v":1,"p":"100%"},
{"r":2,"g":"alk","n":"Isoquinoline alkaloids+Phenylethylamine alkaloids","v":2,"p":"50%"},{"r":2,"g":"alk","n":"Aporphine alkaloids+Benzylisoquinoline alkaloids","v":1,"p":"25%"},{"r":2,"g":"alk","n":"Isoquinoline alkaloids+Tropolone alkaloids","v":1,"p":"25%"},{"r":2,"g":"alk","n":"Pyridine alkaloids","v":1,"p":"100%"},
{"r":2,"g":"ter","n":"Gibberellins","v":1,"p":"100%"},{"r":2,"g":"ter","n":"Germacrane sesquiterpenoids+Eudesmane sesquiterpenoids","v":1,"p":"100%"},{"r":2,"g":"ter","n":"Oleanane triterpenoids+Ursane triterpenoids","v":1,"p":"100%"},
{"r":2,"g":"pol","n":"Phenylalanine-derived flavonoids+Abietane diterpenoids","v":1,"p":"50%"},{"r":2,"g":"pol","n":"Abietane diterpenoids+Flavonolignans","v":1,"p":"50%"},{"r":2,"g":"ami","n":"Dipeptides","v":1,"p":"100%"},{"r":2,"g":"am2","n":"Aminoacids","v":1,"p":"100%"}],
"G":[{"r":0,"g":"shi","n":"Shikimates and Phenylpropanoids","v":99,"p":"38%"},{"r":0,"g":"alk","n":"Alkaloids","v":52,"p":"20%"},{"r":0,"g":"ter","n":"Terpenoids","v":41,"p":"16%"},{"r":0,"g":"ami","n":"Amino Acids and Peptides","v":22,"p":"8%"},{"r":0,"g":"pol","n":"Polyketides","v":21,"p":"8%"},{"r":0,"g":"fat","n":"Fatty acids","v":14,"p":"5%"},{"r":0,"g":"car","n":"Carbohydrates","v":7,"p":"3%"},{"r":0,"g":"oth","n":"other","v":4,"p":"2%"},
{"r":1,"g":"shi","n":"other","v":33,"p":"33%"},{"r":1,"g":"shi","n":"Flavonoids","v":25,"p":"25%"},{"r":1,"g":"shi","n":"Coumarins","v":12,"p":"12%"},{"r":1,"g":"shi","n":"Phenolic acids (C6-C1)","v":11,"p":"11%"},{"r":1,"g":"shi","n":"Lignans","v":10,"p":"10%"},{"r":1,"g":"shi","n":"Isoflavonoids","v":8,"p":"8%"},
{"r":1,"g":"alk","n":"other","v":20,"p":"38%"},{"r":1,"g":"alk","n":"Tryptophan alkaloids","v":10,"p":"19%"},{"r":1,"g":"alk","n":"Tyrosine alkaloids","v":10,"p":"19%"},{"r":1,"g":"alk","n":"Anthranilic acid alkaloids","v":5,"p":"10%"},{"r":1,"g":"alk","n":"Lysine alkaloids","v":4,"p":"8%"},{"r":1,"g":"alk","n":"Nicotinic acid alkaloids","v":3,"p":"6%"},
{"r":1,"g":"ter","n":"Steroids","v":12,"p":"29%"},{"r":1,"g":"ter","n":"Diterpenoids","v":9,"p":"22%"},{"r":1,"g":"ter","n":"Sesquiterpenoids","v":9,"p":"22%"},{"r":1,"g":"ter","n":"other","v":5,"p":"12%"},{"r":1,"g":"ter","n":"Triterpenoids","v":4,"p":"10%"},{"r":1,"g":"ter","n":"Monoterpenoids","v":2,"p":"5%"},
{"r":1,"g":"ami","n":"Small peptides","v":22,"p":"100%"},
{"r":1,"g":"pol","n":"Polycyclic aromatic polyketides","v":9,"p":"43%"},{"r":1,"g":"pol","n":"","v":4,"p":""},{"r":1,"g":"pol","n":"","v":3,"p":""},{"r":1,"g":"pol","n":"","v":2,"p":""},{"r":1,"g":"pol","n":"","v":2,"p":""},{"r":1,"g":"pol","n":"","v":1,"p":""},
{"r":1,"g":"fat","n":"Fatty esters","v":5,"p":"36%"},{"r":1,"g":"fat","n":"","v":3,"p":""},{"r":1,"g":"fat","n":"","v":2,"p":""},{"r":1,"g":"fat","n":"","v":2,"p":""},{"r":1,"g":"fat","n":"","v":1,"p":""},{"r":1,"g":"fat","n":"","v":1,"p":""},
{"r":1,"g":"car","n":"","v":3,"p":""},{"r":1,"g":"car","n":"","v":2,"p":""},{"r":1,"g":"car","n":"","v":1,"p":""},{"r":1,"g":"car","n":"","v":1,"p":""},{"r":1,"g":"oth","n":"Saccharides","v":4,"p":"100%"},
{"r":2,"g":"shi","n":"other","v":18,"p":"55%"},{"r":2,"g":"shi","n":"Cinnamic acids and derivatives","v":7,"p":"21%"},{"r":2,"g":"shi","n":"Linear diarylheptanoids","v":6,"p":"18%"},{"r":2,"g":"shi","n":"","v":1,"p":""},{"r":2,"g":"shi","n":"","v":1,"p":""},
{"r":2,"g":"shi","n":"Chalcones","v":9,"p":"36%"},{"r":2,"g":"shi","n":"Flavones","v":7,"p":"28%"},{"r":2,"g":"shi","n":"other","v":5,"p":"20%"},{"r":2,"g":"shi","n":"Flavanones","v":4,"p":"16%"},
{"r":2,"g":"shi","n":"Simple coumarins","v":6,"p":"50%"},{"r":2,"g":"shi","n":"","v":2,"p":""},{"r":2,"g":"shi","n":"","v":2,"p":""},{"r":2,"g":"shi","n":"","v":2,"p":""},
{"r":2,"g":"shi","n":"Simple phenolic acids","v":11,"p":"100%"},
{"r":2,"g":"shi","n":"other","v":4,"p":"40%"},{"r":2,"g":"shi","n":"","v":2,"p":""},{"r":2,"g":"shi","n":"","v":1,"p":""},{"r":2,"g":"shi","n":"","v":1,"p":""},{"r":2,"g":"shi","n":"","v":1,"p":""},{"r":2,"g":"shi","n":"","v":1,"p":""},
{"r":2,"g":"shi","n":"Isoflavones","v":7,"p":"88%"},{"r":2,"g":"shi","n":"","v":1,"p":""},
{"r":2,"g":"alk","n":"other","v":16,"p":"80%"},{"r":2,"g":"alk","n":"","v":1,"p":""},{"r":2,"g":"alk","n":"","v":1,"p":""},{"r":2,"g":"alk","n":"","v":1,"p":""},{"r":2,"g":"alk","n":"","v":1,"p":""},
{"r":2,"g":"alk","n":"Simple indole alkaloids","v":4,"p":"40%"},{"r":2,"g":"alk","n":"Carboline alkaloids","v":3,"p":"30%"},{"r":2,"g":"alk","n":"other","v":2,"p":"20%"},{"r":2,"g":"alk","n":"","v":1,"p":""},
{"r":2,"g":"alk","n":"Aporphine alkaloids+Isoquinoline alkaloids","v":4,"p":"40%"},{"r":2,"g":"alk","n":"Isoquinoline alkaloids+Tropolone alkaloids","v":3,"p":"30%"},{"r":2,"g":"alk","n":"other","v":2,"p":"20%"},{"r":2,"g":"alk","n":"","v":1,"p":""},
{"r":2,"g":"alk","n":"other","v":3,"p":"60%"},{"r":2,"g":"alk","n":"","v":1,"p":""},{"r":2,"g":"alk","n":"","v":1,"p":""},
{"r":2,"g":"alk","n":"","v":2,"p":""},{"r":2,"g":"alk","n":"","v":1,"p":""},{"r":2,"g":"alk","n":"","v":1,"p":""},{"r":2,"g":"alk","n":"","v":1,"p":""},{"r":2,"g":"alk","n":"","v":1,"p":""},{"r":2,"g":"alk","n":"","v":1,"p":""},
{"r":2,"g":"ter","n":"Cholane steroids","v":3,"p":"25%"},{"r":2,"g":"ter","n":"Spirostan steroids","v":2,"p":"17%"},{"r":2,"g":"ter","n":"Pregnane steroids","v":2,"p":"17%"},{"r":2,"g":"ter","n":"other","v":4,"p":"33%"},{"r":2,"g":"ter","n":"","v":1,"p":""},
{"r":2,"g":"ter","n":"Gibberellins","v":5,"p":"56%"},{"r":2,"g":"ter","n":"","v":1,"p":""},{"r":2,"g":"ter","n":"","v":1,"p":""},{"r":2,"g":"ter","n":"","v":1,"p":""},{"r":2,"g":"ter","n":"","v":1,"p":""},
{"r":2,"g":"ter","n":"","v":2,"p":""},{"r":2,"g":"ter","n":"","v":2,"p":""},{"r":2,"g":"ter","n":"","v":2,"p":""},{"r":2,"g":"ter","n":"","v":1,"p":""},{"r":2,"g":"ter","n":"","v":1,"p":""},{"r":2,"g":"ter","n":"","v":1,"p":""},
{"r":2,"g":"ter","n":"other","v":4,"p":"80%"},{"r":2,"g":"ter","n":"","v":1,"p":""},{"r":2,"g":"ter","n":"","v":2,"p":""},{"r":2,"g":"ter","n":"","v":1,"p":""},{"r":2,"g":"ter","n":"","v":1,"p":""},{"r":2,"g":"ter","n":"","v":1,"p":""},{"r":2,"g":"ter","n":"","v":1,"p":""},
{"r":2,"g":"ami","n":"Dipeptides","v":10,"p":"45%"},{"r":2,"g":"ami","n":"Aminoacids","v":7,"p":"32%"},{"r":2,"g":"ami","n":"Tripeptides","v":4,"p":"18%"},{"r":2,"g":"ami","n":"","v":1,"p":""},
{"r":2,"g":"pol","n":"Anthracyclines and anthraquinones","v":5,"p":"56%"},{"r":2,"g":"pol","n":"Angucyclines","v":4,"p":"44%"},{"r":2,"g":"pol","n":"Zearalenones","v":4,"p":"100%"},{"r":2,"g":"pol","n":"","v":1,"p":""},{"r":2,"g":"pol","n":"","v":1,"p":""},{"r":2,"g":"pol","n":"","v":1,"p":""},{"r":2,"g":"pol","n":"","v":1,"p":""},{"r":2,"g":"pol","n":"","v":1,"p":""},{"r":2,"g":"pol","n":"","v":1,"p":""},{"r":2,"g":"pol","n":"","v":1,"p":""},{"r":2,"g":"pol","n":"","v":1,"p":""},
{"r":2,"g":"fat","n":"Epoxide acids","v":2,"p":"40%"},{"r":2,"g":"fat","n":"","v":1,"p":""},{"r":2,"g":"fat","n":"","v":1,"p":""},{"r":2,"g":"fat","n":"","v":1,"p":""},{"r":2,"g":"fat","n":"","v":1,"p":""},{"r":2,"g":"fat","n":"","v":1,"p":""},{"r":2,"g":"fat","n":"","v":1,"p":""},{"r":2,"g":"fat","n":"","v":1,"p":""},{"r":2,"g":"fat","n":"","v":1,"p":""},{"r":2,"g":"fat","n":"","v":1,"p":""},{"r":2,"g":"fat","n":"","v":1,"p":""},{"r":2,"g":"fat","n":"","v":1,"p":""},{"r":2,"g":"fat","n":"","v":1,"p":""},
{"r":2,"g":"car","n":"","v":1,"p":""},{"r":2,"g":"car","n":"","v":1,"p":""},{"r":2,"g":"car","n":"","v":1,"p":""},{"r":2,"g":"car","n":"","v":1,"p":""},{"r":2,"g":"car","n":"","v":1,"p":""},{"r":2,"g":"car","n":"","v":1,"p":""},{"r":2,"g":"car","n":"","v":1,"p":""},
{"r":2,"g":"oth","n":"Disaccharides","v":4,"p":"100%"}]
},
"layer":[
{"encoding":{"x":{"field":"t","type":"quantitative","scale":{"domain":[0,20],"range":[492,1001],"nice":false},"axis":{"orient":"bottom","offset":-1747,"labels":false,"ticks":false,"title":null}},"y":{"field":"v","type":"quantitative","scale":{"domain":[0,100],"range":[320,231],"nice":false},"axis":{"orient":"left","offset":-492,"values":[0,10,20,30,40,50,60,70,80,90,100],"labelExpr":"datum.value%50==0?datum.label:''","tickSize":{"condition":{"test":"datum.value%50==0","value":5},"value":3},"labelFontSize":11.5,"title":null}}},
"layer":[
{"data":{"name":"d"},"mark":{"type":"line","color":"#4a3f5f","strokeWidth":0.8},"encoding":{}},
{"data":{"values":[{"t":-1.81,"v":124.4,"t2":25.66}]},"mark":{"type":"rule","color":"#8a8098","strokeWidth":1.5},"encoding":{"x2":{"field":"t2"}}},
{"data":{"values":[{"t":-1.81,"v":143.8,"x":"yas202407110000_1_abthtt_1x_2ul_neg3","k":"n"},{"t":9.94,"v":143.8,"x":"07/25/24 20:00:01","k":"n"},{"t":-0.9,"v":115.7,"x":"0.00 - 20.00","k":"n"},{"t":-1.81,"v":115.7,"x":"RT:","k":"b"}]},"mark":{"type":"text","align":"left","baseline":"middle"},"encoding":{"text":{"field":"x"},"size":{"condition":{"test":"datum.x=='RT:'||datum.x=='0.00 - 20.00'","value":11.5},"value":10},"color":{"condition":{"test":"datum.k=='b'","value":"#000"},"value":"#0000a0"}}},
{"data":{"values":[{"t":20,"v":107,"x":["NL: 6.05E9","Base Peak m/z=","103.00-1300.00 F: ms","MS","yas202407110000_1_abtht","t_1x_2ul_neg3"]}]},"mark":{"type":"text","align":"left","baseline":"top","fontSize":11,"lineHeight":13.4,"color":"#000"},"encoding":{"text":{"field":"x"}}},
{"data":{"values":[{"t":-3.5,"v":121.3,"x":"A"}]},"mark":{"type":"text","align":"center","baseline":"middle","fontSize":46,"fontWeight":"bold","color":"#000"},"encoding":{"text":{"field":"x"}}}
]},
{"encoding":{"x":{"field":"t","type":"quantitative","scale":{"domain":[0,20],"range":[492,1001],"nice":false},"axis":{"orient":"bottom","offset":-1650,"labels":false,"ticks":false,"title":null}},"y":{"field":"v","type":"quantitative","scale":{"domain":[0,100],"range":[417,327],"nice":false},"axis":{"orient":"left","offset":-492,"values":[0,10,20,30,40,50,60,70,80,90,100],"labelExpr":"datum.value%50==0?datum.label:''","tickSize":{"condition":{"test":"datum.value%50==0","value":5},"value":3},"labelFontSize":11.5,"title":"Relative Abundance","titleFontSize":11.5}}},
"layer":[
{"data":{"name":"a2"},"mark":{"type":"line","color":"#a83a5a","strokeWidth":0.8},"encoding":{}},
{"data":{"values":[{"t":20,"v":107,"x":["NL: 4.69E9","Base Peak m/z=","103.00-1300.00 F: ms","MS","YAS202407110000_1_BLA","NK1_BTHTT_1X_2ul_NEG","2"]}]},"mark":{"type":"text","align":"left","baseline":"top","fontSize":11,"lineHeight":13.4,"color":"#8e1030"},"encoding":{"text":{"field":"x"}}}
]},
{"encoding":{"x":{"field":"t","type":"quantitative","scale":{"domain":[0,20],"range":[492,1001],"nice":false},"axis":{"orient":"bottom","offset":-1554,"labels":false,"ticks":false,"title":null}},"y":{"field":"v","type":"quantitative","scale":{"domain":[0,100],"range":[513,424],"nice":false},"axis":{"orient":"left","offset":-492,"values":[0,10,20,30,40,50,60,70,80,90,100],"labelExpr":"datum.value%50==0?datum.label:''","tickSize":{"condition":{"test":"datum.value%50==0","value":5},"value":3},"labelFontSize":11.5,"title":null}}},
"layer":[
{"data":{"name":"a3"},"mark":{"type":"line","color":"#3f9a50","strokeWidth":0.8},"encoding":{}},
{"data":{"values":[{"t":20,"v":107,"x":["NL: 1.91E9","Base Peak m/z=","103.00-1300.00 F: ms","MS","yas202407110000_1_blank","_3_neg"]}]},"mark":{"type":"text","align":"left","baseline":"top","fontSize":11,"lineHeight":13.4,"color":"#0f7a2a"},"encoding":{"text":{"field":"x"}}}
]},
{"encoding":{"x":{"field":"t","type":"quantitative","scale":{"domain":[0,20],"range":[492,1001],"nice":false},"axis":{"orient":"bottom","offset":-1458,"values":[0,1,2,3,4,5,6,7,8,9,10,11,12,13,14,15,16,17,18,19,20],"labelExpr":"datum.value%2==0?datum.label:''","tickSize":{"condition":{"test":"datum.value%2==0","value":5},"value":3},"labelFontSize":11.5,"title":"Time (min)","titleFontSize":11.5}},"y":{"field":"v","type":"quantitative","scale":{"domain":[0,100],"range":[609,520],"nice":false},"axis":{"orient":"left","offset":-492,"values":[0,10,20,30,40,50,60,70,80,90,100],"labelExpr":"datum.value%50==0?datum.label:''","tickSize":{"condition":{"test":"datum.value%50==0","value":5},"value":3},"labelFontSize":11.5,"title":null}}},
"layer":[
{"data":{"name":"a4"},"mark":{"type":"line","color":"#4a3fb0","strokeWidth":0.8},"encoding":{}},
{"data":{"values":[{"t":20,"v":107,"x":["NL: 3.10E9","Base Peak m/z=","103.00-1300.00 F: ms","MS","yas202407110000_1_dose","_3_neg"]}]},"mark":{"type":"text","align":"left","baseline":"top","fontSize":11,"lineHeight":13.4,"color":"#1c1ca0"},"encoding":{"text":{"field":"x"}}}
]},
{"encoding":{"x":{"field":"t","type":"quantitative","scale":{"domain":[0,20],"range":[1268,1782],"nice":false},"axis":{"orient":"bottom","offset":-1748,"labels":false,"ticks":false,"title":null}},"y":{"field":"v","type":"quantitative","scale":{"domain":[0,100],"range":[319,229],"nice":false},"axis":{"orient":"left","offset":-1268,"values":[0,10,20,30,40,50,60,70,80,90,100],"labelExpr":"datum.value%50==0?datum.label:''","tickSize":{"condition":{"test":"datum.value%50==0","value":5},"value":3},"labelFontSize":11.5,"title":null}}},
"layer":[
{"data":{"name":"e"},"mark":{"type":"line","color":"#4a3f5f","strokeWidth":0.8},"encoding":{}},
{"data":{"values":[{"t":-1.79,"v":123.7,"t2":25.7}]},"mark":{"type":"rule","color":"#8a8098","strokeWidth":1.5},"encoding":{"x2":{"field":"t2"}}},
{"data":{"values":[{"t":-1.79,"v":142.6,"x":"yas202407110000_1_abthtt_1x_2ul_pos3","k":"n"},{"t":9.96,"v":142.6,"x":"07/25/24 12:43:55","k":"n"},{"t":-0.89,"v":115.6,"x":"0.00 - 20.00","k":"n"},{"t":-1.79,"v":115.6,"x":"RT:","k":"b"}]},"mark":{"type":"text","align":"left","baseline":"middle"},"encoding":{"text":{"field":"x"},"size":{"condition":{"test":"datum.x=='RT:'||datum.x=='0.00 - 20.00'","value":11.5},"value":10},"color":{"condition":{"test":"datum.k=='b'","value":"#000"},"value":"#0000a0"}}},
{"data":{"values":[{"t":20,"v":106,"x":["NL: 1.04E10","Base Peak m/z=","103.00-1300.00 F: ms","MS","yas202407110000_1_abtht","t_1x_2ul_pos3"]}]},"mark":{"type":"text","align":"left","baseline":"top","fontSize":11,"lineHeight":13.4,"color":"#000"},"encoding":{"text":{"field":"x"}}},
{"data":{"values":[{"t":-3.5,"v":118.9,"x":"B"}]},"mark":{"type":"text","align":"center","baseline":"middle","fontSize":46,"fontWeight":"bold","color":"#000"},"encoding":{"text":{"field":"x"}}}
]},
{"encoding":{"x":{"field":"t","type":"quantitative","scale":{"domain":[0,20],"range":[1268,1782],"nice":false},"axis":{"orient":"bottom","offset":-1650,"labels":false,"ticks":false,"title":null}},"y":{"field":"v","type":"quantitative","scale":{"domain":[0,100],"range":[417,327],"nice":false},"axis":{"orient":"left","offset":-1268,"values":[0,10,20,30,40,50,60,70,80,90,100],"labelExpr":"datum.value%50==0?datum.label:''","tickSize":{"condition":{"test":"datum.value%50==0","value":5},"value":3},"labelFontSize":11.5,"title":"Relative Abundance","titleFontSize":11.5}}},
"layer":[
{"data":{"name":"b2"},"mark":{"type":"line","color":"#a83a5a","strokeWidth":0.8},"encoding":{}},
{"data":{"values":[{"t":20,"v":106,"x":["NL: 8.92E9","Base Peak m/z=","103.00-1300.00 F: ms","MS","yas202407110000_1_blank","1_bthtt_1x_2ul_pos2"]}]},"mark":{"type":"text","align":"left","baseline":"top","fontSize":11,"lineHeight":13.4,"color":"#8e1030"},"encoding":{"text":{"field":"x"}}}
]},
{"encoding":{"x":{"field":"t","type":"quantitative","scale":{"domain":[0,20],"range":[1268,1782],"nice":false},"axis":{"orient":"bottom","offset":-1553,"labels":false,"ticks":false,"title":null}},"y":{"field":"v","type":"quantitative","scale":{"domain":[0,100],"range":[514,424],"nice":false},"axis":{"orient":"left","offset":-1268,"values":[0,10,20,30,40,50,60,70,80,90,100],"labelExpr":"datum.value%50==0?datum.label:''","tickSize":{"condition":{"test":"datum.value%50==0","value":5},"value":3},"labelFontSize":11.5,"title":null}}},
"layer":[
{"data":{"name":"b3"},"mark":{"type":"line","color":"#3f9a50","strokeWidth":0.8},"encoding":{}},
{"data":{"values":[{"t":20,"v":106,"x":["NL: 4.89E9","Base Peak m/z=","103.00-1300.00 F: ms","MS","yas202407110000_1_blank","_3_pos"]}]},"mark":{"type":"text","align":"left","baseline":"top","fontSize":11,"lineHeight":13.4,"color":"#0f7a2a"},"encoding":{"text":{"field":"x"}}}
]},
{"encoding":{"x":{"field":"t","type":"quantitative","scale":{"domain":[0,20],"range":[1268,1782],"nice":false},"axis":{"orient":"bottom","offset":-1455,"values":[0,1,2,3,4,5,6,7,8,9,10,11,12,13,14,15,16,17,18,19,20],"labelExpr":"datum.value%2==0?datum.label:''","tickSize":{"condition":{"test":"datum.value%2==0","value":5},"value":3},"labelFontSize":11.5,"title":"Time (min)","titleFontSize":11.5}},"y":{"field":"v","type":"quantitative","scale":{"domain":[0,100],"range":[612,522],"nice":false},"axis":{"orient":"left","offset":-1268,"values":[0,10,20,30,40,50,60,70,80,90,100],"labelExpr":"datum.value%50==0?datum.label:''","tickSize":{"condition":{"test":"datum.value%50==0","value":5},"value":3},"labelFontSize":11.5,"title":null}}},
"layer":[
{"data":{"name":"b4"},"mark":{"type":"line","color":"#4a3fb0","strokeWidth":0.8},"encoding":{}},
{"data":{"values":[{"t":20,"v":106,"x":["NL: 5.04E9","Base Peak m/z=","103.00-1300.00 F: ms","MS","yas202407110000_1_dose","_3_pos"]}]},"mark":{"type":"text","align":"left","baseline":"top","fontSize":11,"lineHeight":13.4,"color":"#1c1ca0"},"encoding":{"text":{"field":"x"}}}
]},
{"encoding":{"x":{"field":"t","type":"quantitative","scale":{"domain":[0,20],"range":[495,1123],"nice":false},"axis":{"orient":"bottom","offset":-873.4,"values":[0,1,2,3,4,5,6,7,8,9,10,11,12,13,14,15,16,17,18,19,20],"labelExpr":"datum.value%2==0?datum.label:''","tickSize":{"condition":{"test":"datum.value%2==0","value":7},"value":4},"labelFontSize":13,"title":"Time (min)","titleFontSize":13}},"y":{"field":"v","type":"quantitative","scale":{"domain":[0,100],"range":[1193.6,766.4],"nice":false},"axis":{"orient":"left","offset":-495,"values":[0,2,4,6,8,10,12,14,16,18,20,22,24,26,28,30,32,34,36,38,40,42,44,46,48,50,52,54,56,58,60,62,64,66,68,70,72,74,76,78,80,82,84,86,88,90,92,94,96,98,100],"labelExpr":"datum.value%10==0?datum.label:''","tickSize":{"condition":{"test":"datum.value%10==0","value":7},"value":4},"labelFontSize":13,"title":"Relative Abundance","titleFontSize":13}}},
"layer":[
{"data":{"name":"d"},"mark":{"type":"line","color":"#4a3f5f","strokeWidth":0.8},"encoding":{}},
{"data":{"name":"dLines"},"mark":{"type":"rule","strokeWidth":1},"encoding":{"x2":{"field":"t2"},"y2":{"field":"v2"},"color":{"field":"k","type":"nominal","legend":null,"scale":{"domain":["r","g"],"range":["#ff0000","#86d68e"]}}}},
{"data":{"name":"dBlack"},"mark":{"type":"text","fontSize":13,"color":"#000","align":"center","baseline":"middle"},"encoding":{"text":{"field":"x"}}},
{"data":{"name":"dRed"},"mark":{"type":"text","font":"Liberation Serif","fontWeight":"bold","fontSize":13.5,"color":"#ff0000","align":"center","baseline":"middle"},"encoding":{"text":{"field":"x"}}},
{"data":{"values":[{"t":-1.66,"v":107.7,"t2":24}]},"mark":{"type":"rule","color":"#8a8098","strokeWidth":1.5},"encoding":{"x2":{"field":"t2"}}},
{"data":{"values":[{"t":-1.66,"v":112.4,"x":"yas202407110000_1_abthtt_1x_2ul_neg3","k":"n"},{"t":9.3,"v":112.4,"x":"07/25/24 20:00:01","k":"n"},{"t":-0.83,"v":105.7,"x":"0.00 - 20.00","k":"n"},{"t":-1.66,"v":105.7,"x":"RT:","k":"b"}]},"mark":{"type":"text","align":"left","baseline":"middle"},"encoding":{"text":{"field":"x"},"size":{"condition":{"test":"datum.x=='RT:'||datum.x=='0.00 - 20.00'","value":12.5},"value":11},"color":{"condition":{"test":"datum.k=='b'","value":"#000"},"value":"#0000a0"}}},
{"data":{"values":[{"t":20,"v":104,"x":["NL: 6.05E9","Base Peak m/z=","103.00-1300.00 F:","ms\u00a0\u00a0\u00a0MS","yas202407110000_","1_abthtt_1x_2ul_ne","g3"]}]},"mark":{"type":"text","align":"left","baseline":"top","fontSize":12.5,"lineHeight":15.3,"color":"#000"},"encoding":{"text":{"field":"x"}}},
{"data":{"values":[{"t":-2.93,"v":108.3,"x":"D"}]},"mark":{"type":"text","align":"center","baseline":"middle","fontSize":46,"fontWeight":"bold","color":"#000"},"encoding":{"text":{"field":"x"}}}
]},
{"encoding":{"x":{"field":"t","type":"quantitative","scale":{"domain":[0,20],"range":[1546.7,2183],"nice":false},"axis":{"orient":"bottom","offset":-871.3,"values":[0,1,2,3,4,5,6,7,8,9,10,11,12,13,14,15,16,17,18,19,20],"labelExpr":"datum.value%2==0?datum.label:''","tickSize":{"condition":{"test":"datum.value%2==0","value":7},"value":4},"labelFontSize":13,"title":"Time (min)","titleFontSize":13}},"y":{"field":"v","type":"quantitative","scale":{"domain":[0,100],"range":[1195.7,763.6],"nice":false},"axis":{"orient":"left","offset":-1546.7,"values":[0,2,4,6,8,10,12,14,16,18,20,22,24,26,28,30,32,34,36,38,40,42,44,46,48,50,52,54,56,58,60,62,64,66,68,70,72,74,76,78,80,82,84,86,88,90,92,94,96,98,100],"labelExpr":"datum.value%10==0?datum.label:''","tickSize":{"condition":{"test":"datum.value%10==0","value":7},"value":4},"labelFontSize":13,"title":"Relative Abundance","titleFontSize":13}}},
"layer":[
{"data":{"name":"e"},"mark":{"type":"line","color":"#4a3f5f","strokeWidth":0.8},"encoding":{}},
{"data":{"name":"eLines"},"mark":{"type":"rule","strokeWidth":1},"encoding":{"x2":{"field":"t2"},"y2":{"field":"v2"},"color":{"field":"k","type":"nominal","legend":null,"scale":{"domain":["r","g"],"range":["#ff0000","#86d68e"]}}}},
{"data":{"name":"eBlack"},"mark":{"type":"text","fontSize":13,"color":"#000","align":"center","baseline":"middle"},"encoding":{"text":{"field":"x"}}},
{"data":{"name":"eRed"},"mark":{"type":"text","font":"Liberation Serif","fontWeight":"bold","fontSize":13.5,"color":"#ff0000","align":"center","baseline":"middle"},"encoding":{"text":{"field":"x"}}},
{"data":{"values":[{"t":-1.66,"v":107.8,"t2":24}]},"mark":{"type":"rule","color":"#8a8098","strokeWidth":1.5},"encoding":{"x2":{"field":"t2"}}},
{"data":{"values":[{"t":-1.66,"v":112.4,"x":"YAS202407110000_1_ABTHTT_1X_2ul_POS3","k":"n"},{"t":9.28,"v":112.4,"x":"07/25/24 12:43:55","k":"n"},{"t":-0.82,"v":105.8,"x":"0.00 - 20.00","k":"n"},{"t":-1.66,"v":105.8,"x":"RT:","k":"b"}]},"mark":{"type":"text","align":"left","baseline":"middle"},"encoding":{"text":{"field":"x"},"size":{"condition":{"test":"datum.x=='RT:'||datum.x=='0.00 - 20.00'","value":12.5},"value":11},"color":{"condition":{"test":"datum.k=='b'","value":"#000"},"value":"#0000a0"}}},
{"data":{"values":[{"t":20,"v":104,"x":["NL: 1.04E10","Base Peak m/z=","103.00-1300.00 F:","ms\u00a0\u00a0\u00a0MS","YAS202407110000_","1_ABTHTT_1X_2ul_","POS3"]}]},"mark":{"type":"text","align":"left","baseline":"top","fontSize":12.5,"lineHeight":15.3,"color":"#000"},"encoding":{"text":{"field":"x"}}},
{"data":{"values":[{"t":-3.63,"v":107.6,"x":"E"}]},"mark":{"type":"text","align":"center","baseline":"middle","fontSize":46,"fontWeight":"bold","color":"#000"},"encoding":{"text":{"field":"x"}}}
]},
{"layer":[
{"data":{"name":"C"},"transform":[{"stack":"v","groupby":["r"],"as":["t0","t1"]},{"calculate":"datum.r+1","as":"r1"},{"calculate":"(datum.t0+datum.t1)/2","as":"tm"},{"calculate":"datum.r==0?0.65:datum.r+0.5","as":"rm"},{"calculate":"min(20,120.5*(datum.r==0?0.65:0.97)/(0.58*length(datum.n)+0.01),datum.rm*120.5*(datum.t1-datum.t0)/2369*6.2832/4.5)","as":"fs"},{"calculate":"360-360*datum.tm/2369","as":"a0"},{"calculate":"datum.a0<=90?datum.a0:datum.a0<270?datum.a0-180:datum.a0-360","as":"ang"},{"calculate":"[datum.n,''+datum.v,datum.p]","as":"lines"}],
"encoding":{"x":{"datum":0,"type":"quantitative","axis":null,"scale":{"domain":[-1,1],"range":[2029,2511],"nice":false}},"y":{"datum":0,"type":"quantitative","axis":null,"scale":{"domain":[-1,1],"range":[643,161],"nice":false}}},
"layer":[
{"mark":{"type":"arc","stroke":"#fff","strokeWidth":1},"encoding":{"theta":{"field":"t0","type":"quantitative","stack":null,"scale":{"domain":[0,2369],"range":[1.5708,-4.7124]}},"theta2":{"field":"t1"},"radius":{"field":"r","type":"quantitative","scale":{"type":"linear","domain":[0,2],"range":[0,241]}},"radius2":{"field":"r1"},"color":{"field":"g","type":"nominal","legend":null,"scale":{"domain":["alk","shi","ter","fat","ami","pol","car","oth"],"range":["#0050ae","#ff5c00","#0e7f1e","#d0021f","#8338b5","#7a1f3d","#e04fc0","#5f4f6f"]}},"fillOpacity":{"condition":{"test":"datum.r==1","value":0.7},"value":1}}},
{"transform":[{"filter":"datum.n!==''"}],"mark":{"type":"text","font":"DejaVu Sans","align":"center","baseline":"middle","lineHeight":{"expr":"datum.fs*1.35"},"dy":{"expr":"-datum.fs*1.35"}},"encoding":{"theta":{"field":"tm","type":"quantitative","scale":{"domain":[0,2369],"range":[1.5708,-4.7124]}},"radius":{"field":"rm","type":"quantitative","scale":{"type":"linear","domain":[0,2],"range":[0,241]}},"size":{"field":"fs","type":"quantitative","scale":null},"angle":{"field":"ang","type":"quantitative","scale":null},"text":{"field":"lines"},"color":{"condition":{"test":"datum.g=='shi'","value":"#1a1040"},"value":"#ffffff"}}}
]},
{"data":{"values":[{"a":-1.185,"b":0.788,"x":"C"}]},"mark":{"type":"text","align":"center","baseline":"middle","fontSize":46,"fontWeight":"bold","color":"#000"},"encoding":{"x":{"field":"a","type":"quantitative","axis":null,"scale":{"domain":[-1,1],"range":[2029,2511],"nice":false}},"y":{"field":"b","type":"quantitative","axis":null,"scale":{"domain":[-1,1],"range":[643,161],"nice":false}},"text":{"field":"x"}}}
]},
{"layer":[
{"data":{"name":"F"},"transform":[{"stack":"v","groupby":["r"],"as":["t0","t1"]},{"calculate":"datum.r+1","as":"r1"},{"calculate":"(datum.t0+datum.t1)/2","as":"tm"},{"calculate":"datum.r==0?0.65:datum.r+0.5","as":"rm"},{"calculate":"min(21,98*(datum.r==0?0.65:0.97)/(0.58*length(datum.n)+0.01),datum.rm*98*(datum.t1-datum.t0)/37*6.2832/4.5)","as":"fs"},{"calculate":"360-360*datum.tm/37","as":"a0"},{"calculate":"datum.a0<=90?datum.a0:datum.a0<270?datum.a0-180:datum.a0-360","as":"ang"},{"calculate":"[datum.n,''+datum.v,datum.p]","as":"lines"}],
"encoding":{"x":{"datum":0,"type":"quantitative","axis":null,"scale":{"domain":[-1,1],"range":[565,1153],"nice":false}},"y":{"datum":0,"type":"quantitative","axis":null,"scale":{"domain":[-1,1],"range":[1892.6,1304.6],"nice":false}}},
"layer":[
{"mark":{"type":"arc","stroke":"#fff","strokeWidth":1},"encoding":{"theta":{"field":"t0","type":"quantitative","stack":null,"scale":{"domain":[0,37],"range":[1.5708,-4.7124]}},"theta2":{"field":"t1"},"radius":{"field":"r","type":"quantitative","scale":{"type":"linear","domain":[0,3],"range":[0,294]}},"radius2":{"field":"r1"},"color":{"field":"g","type":"nominal","legend":null,"scale":{"domain":["shi","fat","alk","ter","pol","ami","am2"],"range":["#0050ae","#ff5c00","#0e7f1e","#d0021f","#8338b5","#7a1f3d","#e04fc0"]}},"fillOpacity":{"condition":{"test":"datum.r==2","value":0.7},"value":1}}},
{"transform":[{"filter":"datum.n!==''"}],"mark":{"type":"text","font":"DejaVu Sans","align":"center","baseline":"middle","lineHeight":{"expr":"datum.fs*1.35"},"dy":{"expr":"-datum.fs*1.35"}},"encoding":{"theta":{"field":"tm","type":"quantitative","scale":{"domain":[0,37],"range":[1.5708,-4.7124]}},"radius":{"field":"rm","type":"quantitative","scale":{"type":"linear","domain":[0,3],"range":[0,294]}},"size":{"field":"fs","type":"quantitative","scale":null},"angle":{"field":"ang","type":"quantitative","scale":null},"text":{"field":"lines"},"color":{"condition":{"test":"datum.g=='fat'||datum.n=='Aminoacids'","value":"#1a1040"},"value":"#ffffff"}}}
]},
{"data":{"values":[{"a":-1.126,"b":0.907,"x":"F"}]},"mark":{"type":"text","align":"center","baseline":"middle","fontSize":46,"fontWeight":"bold","color":"#000"},"encoding":{"x":{"field":"a","type":"quantitative","axis":null,"scale":{"domain":[-1,1],"range":[565,1153],"nice":false}},"y":{"field":"b","type":"quantitative","axis":null,"scale":{"domain":[-1,1],"range":[1892.6,1304.6],"nice":false}},"text":{"field":"x"}}}
]},
{"layer":[
{"data":{"name":"G"},"transform":[{"stack":"v","groupby":["r"],"as":["t0","t1"]},{"calculate":"datum.r+1","as":"r1"},{"calculate":"(datum.t0+datum.t1)/2","as":"tm"},{"calculate":"datum.r==0?0.65:datum.r+0.5","as":"rm"},{"calculate":"min(22,98.3*(datum.r==0?0.65:0.97)/(0.58*length(datum.n)+0.01),datum.rm*98.3*(datum.t1-datum.t0)/260*6.2832/4.5)","as":"fs"},{"calculate":"360-360*datum.tm/260","as":"a0"},{"calculate":"datum.a0<=90?datum.a0:datum.a0<270?datum.a0-180:datum.a0-360","as":"ang"},{"calculate":"[datum.n,''+datum.v,datum.p]","as":"lines"}],
"encoding":{"x":{"datum":0,"type":"quantitative","axis":null,"scale":{"domain":[-1,1],"range":[1557,2147],"nice":false}},"y":{"datum":0,"type":"quantitative","axis":null,"scale":{"domain":[-1,1],"range":[1893.6,1303.6],"nice":false}}},
"layer":[
{"mark":{"type":"arc","stroke":"#fff","strokeWidth":1},"encoding":{"theta":{"field":"t0","type":"quantitative","stack":null,"scale":{"domain":[0,260],"range":[1.5708,-4.7124]}},"theta2":{"field":"t1"},"radius":{"field":"r","type":"quantitative","scale":{"type":"linear","domain":[0,3],"range":[0,295]}},"radius2":{"field":"r1"},"color":{"field":"g","type":"nominal","legend":null,"scale":{"domain":["shi","alk","ter","ami","pol","fat","car","oth"],"range":["#0050ae","#ff5c00","#0e7f1e","#d0021f","#8338b5","#7a1f3d","#e04fc0","#5f4f6f"]}},"fillOpacity":{"condition":{"test":"datum.r==2","value":0.7},"value":1}}},
{"transform":[{"filter":"datum.n!==''"}],"mark":{"type":"text","font":"DejaVu Sans","align":"center","baseline":"middle","lineHeight":{"expr":"datum.fs*1.35"},"dy":{"expr":"-datum.fs*1.35"}},"encoding":{"theta":{"field":"tm","type":"quantitative","scale":{"domain":[0,260],"range":[1.5708,-4.7124]}},"radius":{"field":"rm","type":"quantitative","scale":{"type":"linear","domain":[0,3],"range":[0,295]}},"size":{"field":"fs","type":"quantitative","scale":null},"angle":{"field":"ang","type":"quantitative","scale":null},"text":{"field":"lines"},"color":{"condition":{"test":"datum.g=='alk'","value":"#1a1040"},"value":"#ffffff"}}}
]},
{"data":{"values":[{"a":-1.07,"b":0.904,"x":"G"}]},"mark":{"type":"text","align":"center","baseline":"middle","fontSize":46,"fontWeight":"bold","color":"#000"},"encoding":{"x":{"field":"a","type":"quantitative","axis":null,"scale":{"domain":[-1,1],"range":[1557,2147],"nice":false}},"y":{"field":"b","type":"quantitative","axis":null,"scale":{"domain":[-1,1],"range":[1893.6,1303.6],"nice":false}},"text":{"field":"x"}}}
]}
]}
